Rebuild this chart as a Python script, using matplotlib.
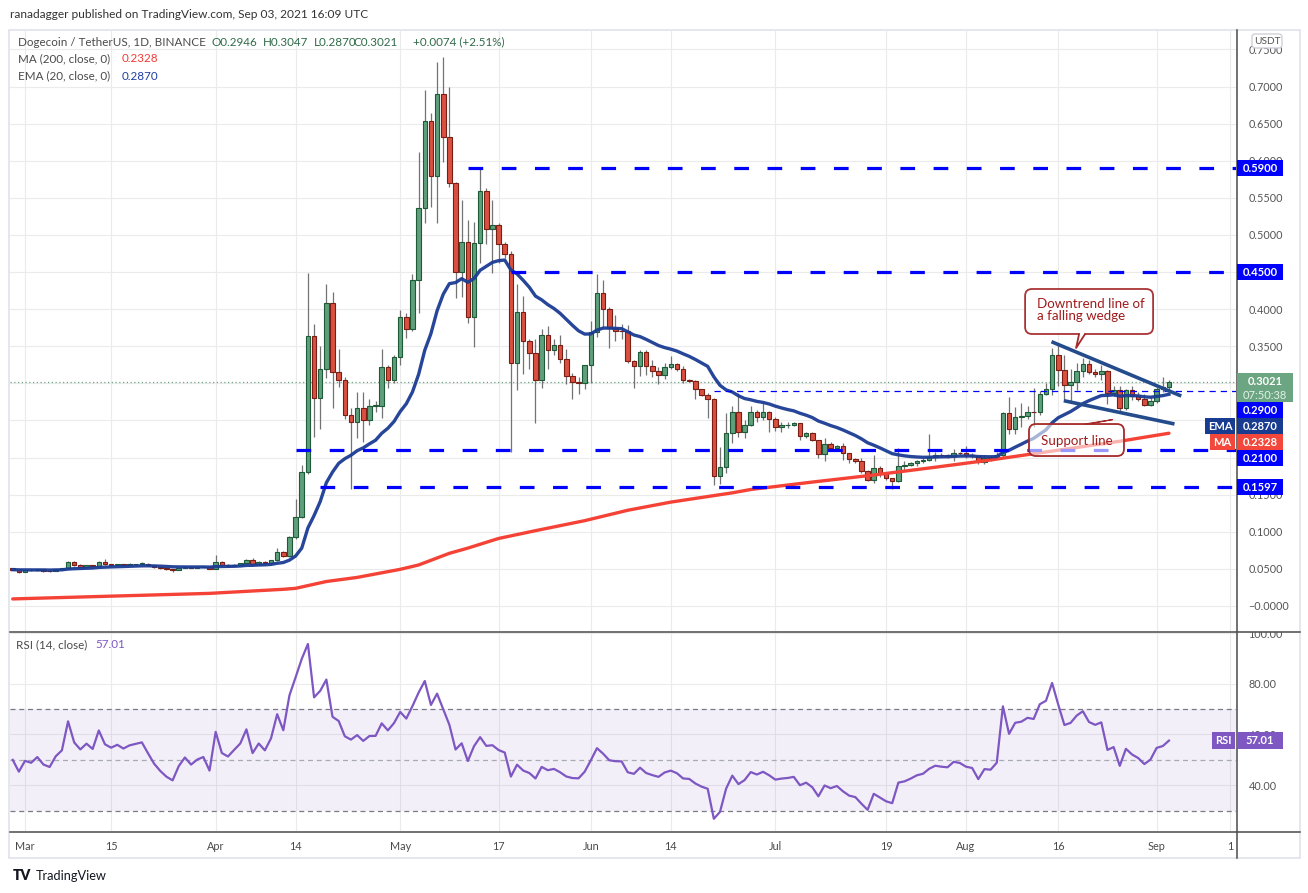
import numpy as np
import pandas as pd
import matplotlib
matplotlib.use("Agg")
import matplotlib.pyplot as plt
from matplotlib.patches import Rectangle, FancyBboxPatch, Polygon

W, H = 1308, 893
plt.rcParams['font.family'] = ['Lato', 'DejaVu Sans']

# ---- data (daily DOGE/USDT, 2021-02-27 .. 2021-09-03) ----
first_date = '2021-02-27'
first_open = 0.0508
closes = [
    .0490, .0458, .0485, .0480, .0494, .0476, .0470, .0494, .0508, .0597,
    .0548, .0530, .0548, .0535, .0597, .0562, .0553, .0562, .0553, .0562,
    .0566, .0570, .0548, .0525, .0508, .0494, .0485, .0512, .0530, .0515,
    .0525, .0530, .0503, .0597, .0548, .0539, .0557, .0575, .0620, .0562,
    .0593, .0575, .0615, .0723, .0678, .0930, .1195, .1801, .3634, .2800,
    .3200, .4080, .3160, .3040, .2580, .2475, .2670, .2500, .2695, .2700,
    .3217, .3040, .3350, .3890, .3730, .4400, .5370, .6536, .5800, .6896,
    .6325, .5697, .4497, .4910, .3900, .4890, .5586, .5087, .5134, .4874,
    .4740, .3270, .3958, .3570, .3405, .3046, .3648, .3450, .3513, .3329,
    .3100, .3015, .3000, .3244, .3688, .4214, .4000, .3743, .3706, .3700,
    .3298, .3238, .3423, .3238, .3167, .3110, .3217, .3261, .3190, .3050,
    .3037, .2920, .2840, .2786, .1756, .1877, .2327, .2619, .2350, .2440,
    .2619, .2553, .2610, .2523, .2417, .2435, .2445, .2462, .2291, .2327,
    .2237, .2044, .2183, .2129, .2156, .2058, .1977, .1950, .1824, .1698,
    .1856, .1788, .1720, .1685, .1883, .1896, .1923, .1954, .1968, .2012,
    .2039, .2030, .2025, .2066, .2057, .2030, .2021, .1940, .1999, .1995,
    .2035, .2597, .2381, .2543, .2560, .2619, .2610, .2853, .2920, .3378,
    .3185, .2974, .3015, .3163, .3257, .3149, .3120, .3163, .2866, .2907,
    .2664, .2911, .2834, .2786, .2705, .2763, .2920, .2946, .3021,
]
highs = [
    .0515, .0495, .0490, .0492, .0500, .0498, .0482, .0498, .0514, .0605,
    .0610, .0560, .0555, .0552, .0605, .0629, .0568, .0570, .0568, .0575,
    .0572, .0597, .0575, .0552, .0530, .0512, .0498, .0518, .0536, .0535,
    .0530, .0536, .0535, .0687, .0610, .0560, .0565, .0582, .0630, .0647,
    .0600, .0605, .0625, .0780, .0740, .0950, .1446, .1900, .4490, .3800,
    .3500, .4340, .4230, .3460, .3080, .2670, .2885, .2885, .2790, .2760,
    .3460, .3250, .3380, .3990, .3950, .4470, .6120, .6960, .6650, .7330,
    .7400, .7000, .5720, .5470, .5200, .5170, .5890, .5630, .5470, .5160,
    .4900, .4780, .4340, .4180, .3600, .3600, .3730, .3780, .3600, .3650,
    .3460, .3140, .3090, .3250, .3840, .4474, .4390, .4030, .3920, .3800,
    .3790, .3310, .3450, .3450, .3310, .3220, .3270, .3370, .3270, .3230,
    .3060, .3045, .2930, .2866, .2800, .2147, .2597, .2690, .2875, .2500,
    .2700, .2640, .2730, .2630, .2550, .2480, .2480, .2480, .2470, .2345,
    .2345, .2240, .2260, .2210, .2170, .2190, .2060, .1990, .1990, .1830,
    .2035, .1880, .1800, .1730, .2125, .1960, .1940, .1970, .1990, .2318,
    .2080, .2060, .2050, .2110, .2080, .2156, .2060, .2040, .2030, .2030,
    .2070, .2610, .2820, .2687, .2732, .2690, .2934, .2900, .3000, .3480,
    .3517, .3380, .3200, .3271, .3338, .3315, .3190, .3248, .3180, .2960,
    .2960, .2930, .2960, .2880, .2860, .2820, .2960, .3090, .3047,
]
lows = [
    .0482, .0440, .0452, .0474, .0476, .0454, .0462, .0466, .0490, .0500,
    .0540, .0522, .0525, .0530, .0530, .0555, .0545, .0548, .0548, .0550,
    .0555, .0560, .0542, .0518, .0500, .0485, .0462, .0480, .0508, .0510,
    .0510, .0520, .0498, .0500, .0540, .0530, .0535, .0550, .0570, .0555,
    .0555, .0568, .0570, .0605, .0660, .0665, .0900, .1180, .1780, .2280,
    .2380, .3070, .2670, .2950, .2520, .1580, .2270, .2215, .2440, .2620,
    .2530, .2934, .3000, .3248, .3608, .3710, .3950, .5160, .5380, .5160,
    .5990, .5650, .4150, .4170, .3820, .3495, .4620, .4879, .4484, .4618,
    .4690, .2080, .2911, .3127, .3200, .2460, .2934, .3190, .3380, .3270,
    .2992, .2786, .2853, .2920, .3000, .3630, .3756, .3480, .3575, .3600,
    .3270, .2934, .3104, .3110, .3090, .2988, .3055, .3200, .3170, .3010,
    .3020, .2786, .2830, .2530, .1630, .1650, .1788, .2193, .2280, .2270,
    .2420, .2480, .2500, .2350, .2360, .2340, .2400, .2420, .2240, .2270,
    .2220, .1990, .1950, .2100, .2100, .1970, .1930, .1930, .1790, .1690,
    .1660, .1740, .1700, .1570, .1670, .1830, .1880, .1880, .1930, .1950,
    .1950, .2010, .2000, .1950, .2030, .2000, .2000, .1920, .1920, .1960,
    .1980, .2010, .2320, .2320, .2417, .2520, .2417, .2580, .2840, .2840,
    .2965, .2776, .2760, .2911, .3090, .3127, .3080, .3046, .2722, .2830,
    .2620, .2640, .2780, .2760, .2690, .2690, .2740, .2880, .2870,
]

# 200-day MA (history before the window is not shown)
ma200_dates = ['2021-02-27', '2021-03-01', '2021-03-31', '2021-04-12', '2021-04-14',
               '2021-04-19', '2021-04-24', '2021-05-01', '2021-05-04', '2021-05-09',
               '2021-05-12', '2021-05-17', '2021-05-23', '2021-05-31', '2021-06-07',
               '2021-06-14', '2021-06-24', '2021-06-27', '2021-07-07', '2021-07-17',
               '2021-07-27', '2021-08-05', '2021-08-16', '2021-08-26', '2021-09-03']
ma200_vals = [0.0095, 0.0100, 0.0170, 0.0225, 0.0238, 0.0330, 0.0385, 0.0494, 0.0553,
              0.0710, 0.0780, 0.0910, 0.1015, 0.1150, 0.1290, 0.1400, 0.1525, 0.1570,
              0.1670, 0.1765, 0.1870, 0.1968, 0.2100, 0.2220, 0.2328]

# horizontal levels: price, first day drawn
levels = [0.59, 0.45, 0.21, 0.1597]
level_start = ['2021-05-12', '2021-05-19', '2021-04-14', '2021-04-18']
thin_level = 0.29
thin_level_start = '2021-06-21'

# wedge drawings (day offsets from 2021-03-01, prices)
wedge_top_x, wedge_top_y = [166.9, 188.0], [0.3562, 0.2830]
wedge_bot_x, wedge_bot_y = [168.9, 186.9], [0.2767, 0.2453]
callout1_tip = (170.9, 0.3477)
callout2_tip = (176.9, 0.2513)

tick_dates = ['2021-03-01', '2021-03-15', '2021-04-01', '2021-04-14', '2021-05-01',
              '2021-05-17', '2021-06-01', '2021-06-14', '2021-07-01', '2021-07-19',
              '2021-08-01', '2021-08-16', '2021-09-01', '2021-09-13']
tick_labels = ['Mar', '15', 'Apr', '14', 'May', '17', 'Jun', '14', 'Jul', '19',
               'Aug', '16', 'Sep', '1']

# price ticks hidden under the value tags on the right axis
hidden_ticks = [0.20, 0.25, 0.30, 0.45]

rsi_seed = 0.0012  # starting Wilder average gain/loss

# ---- derived ----
base = pd.Timestamp('2021-03-01')
def day(s):
    return (pd.Timestamp(s) - base).days

dates = pd.date_range(first_date, periods=len(closes))
x = np.asarray((dates - base).days, dtype=float)
c = np.array(closes)
o = np.r_[first_open, c[:-1]]
hi = np.array(highs)
lo = np.array(lows)
ema20 = pd.Series(c).ewm(span=20, adjust=False).mean().values

ag = al = rsi_seed
rsi = [50.0]
for d in np.diff(c):
    ag = (ag * 13 + max(d, 0)) / 14
    al = (al * 13 + max(-d, 0)) / 14
    rsi.append(100 - 100 / (1 + ag / al))
rsi = np.array(rsi)

# ---- figure ----
fig = plt.figure(figsize=(W / 100, H / 100), dpi=100)

def rect(x0, y0, x1, y1):
    return [x0 / W, 1 - y1 / H, (x1 - x0) / W, (y1 - y0) / H]

ax = fig.add_axes(rect(10, 31, 1236, 631))
rx = fig.add_axes(rect(10, 632, 1236, 831), sharex=ax)
ov = fig.add_axes([0, 0, 1, 1], zorder=20)
ov.set_xlim(0, W)
ov.set_ylim(H, 0)
ov.axis('off')

xl = (-2.44, 196.9)
ax.set_xlim(*xl)
ax.set_ylim(-0.0337, 0.7749)
rx.set_ylim(21.96, 100.4)

tx = [day(t) for t in tick_dates]
grid_c = '#ebebeb'
for a in (ax, rx):
    for s in a.spines.values():
        s.set_visible(False)
    a.set_xticks(tx)
    a.grid(True, color=grid_c, lw=0.8)
    a.set_axisbelow(True)
    a.yaxis.tick_right()
    a.tick_params(length=0, labelcolor='#555555', labelsize=7.8)
ax.tick_params(axis='x', labelbottom=False)
rx.set_xticklabels(tick_labels)
rx.tick_params(axis='x', pad=7, labelcolor='#4a4a4a', labelsize=7.8)

pt = np.round(np.arange(0, 0.76, 0.05), 2)
ax.set_yticks(pt)
ax.set_yticklabels(['' if any(abs(v - h) < 1e-9 for h in hidden_ticks)
                    else ('\u22120.0000' if v == 0 else f'{v:.4f}') for v in pt])
ax.tick_params(axis='y', pad=9)

# candles
up = c >= o
wick_c = '#737373'
ax.vlines(x, lo, hi, color=wick_c, lw=0.9, zorder=3)
bb = np.minimum(o, c)
bh = np.maximum(np.abs(c - o), 0.0007)
ax.bar(x[up], bh[up], bottom=bb[up], width=0.74, color='#5f9f7b',
       edgecolor='#1d5a37', lw=0.8, zorder=4)
ax.bar(x[~up], bh[~up], bottom=bb[~up], width=0.74, color='#da5040',
       edgecolor='#7a1d14', lw=0.8, zorder=4)

# indicators
ma_x = [day(s) for s in ma200_dates]
ax.plot(ma_x, ma200_vals, color='#f44336', lw=2.4, zorder=5,
        solid_capstyle='round', solid_joinstyle='round')
ax.plot(x, ema20, color='#1b3c94', lw=2.4, zorder=5, alpha=0.95)

# current price dotted line
ax.axhline(c[-1], color='#6aa584', lw=0.9, ls=(0, (1, 2)), zorder=2)

# levels
for p, s in zip(levels, level_start):
    ax.plot([day(s), xl[1]], [p, p], color='#0000ff', lw=2.3,
            ls=(0, (4.6, 5.8)), zorder=6)
ax.plot([day(thin_level_start), xl[1]], [thin_level] * 2, color='#0000ff',
        lw=0.9, ls=(0, (5, 4)), zorder=6)

# wedge
ax.plot(wedge_top_x, wedge_top_y, color='#244c8c', lw=2.6, zorder=6, solid_capstyle='butt')
ax.plot(wedge_bot_x, wedge_bot_y, color='#244c8c', lw=2.6, zorder=6, solid_capstyle='butt')

# RSI pane
rx.set_yticks([40, 60, 80, 100])
rx.set_yticklabels(['40.00', '60.00', '80.00', '100.00'])
rx.tick_params(axis='y', pad=9)
rx.axhspan(30, 70, color='#7e57c2', alpha=0.09, lw=0, zorder=1)
rx.axhline(70, color='#787b86', lw=0.9, ls=(0, (4, 3)), zorder=2)
rx.axhline(30, color='#787b86', lw=0.9, ls=(0, (4, 3)), zorder=2)
rx.axhline(50, color='#a9abb3', lw=0.9, ls=(0, (4, 3)), zorder=2)
rx.plot(x, rsi, color='#7e57c2', lw=1.6, zorder=4)

# ---- overlay in pixel units ----
def ypix(a, v):
    return H - a.transData.transform((0, v))[1]

def xpix(a, v):
    return a.transData.transform((v, 0))[0]

# hide clipped top of 100.00
ov.add_patch(Rectangle((1237, 617), 62, 14, color='white', zorder=1))
# frame & separators
ov.add_patch(Rectangle((9, 30), 1291, 828, fill=False, ec='#e0e3eb', lw=1.2))
ov.plot([10, 1300], [631.5, 631.5], color='#4a4a4a', lw=1.1)
ov.plot([10, 1300], [831.5, 831.5], color='#4a4a4a', lw=1.1)
ov.plot([1236.5, 1236.5], [30, 858], color='#4a4a4a', lw=1.1)

def tag(y0, h, text, color, x0=1237, x1=1283, tc='white'):
    ov.add_patch(Rectangle((x0, y0), x1 - x0, h, color=color, lw=0, zorder=3))
    ov.text((x0 + x1) / 2, y0 + h / 2, text, color=tc, ha='center', va='center',
            fontsize=8, fontweight='bold', zorder=4)

tag(ypix(ax, 0.59) - 8, 16, '0.5900', '#0000ff')
tag(ypix(ax, 0.45) - 8, 16, '0.4500', '#0000ff')

# stacked right-axis tags
stack = [(c[-1], 'last'), (0.29, 'lvl'), (ema20[-1], 'ema'), (ma200_vals[-1], 'ma'),
         (0.21, 'lvl'), (0.1597, 'lvl')]
prev_bottom = -1e9
for v, kind in stack:
    yc = ypix(ax, v)
    above, below = (8.5, 20.5) if kind == 'last' else (8, 8)
    top = max(yc - above, prev_bottom)
    prev_bottom = top + above + below
    if kind == 'last':
        ov.add_patch(Rectangle((1237, top), 56, above + below, color='#6ca582', lw=0, zorder=3))
        ov.text(1265, top + 8.5, '0.3021', color='white', ha='center', va='center',
                fontsize=8, fontweight='bold', zorder=4)
        ov.text(1265, top + 22, '07:50:38', color='#e4f2e9', ha='center', va='center',
                fontsize=8, zorder=4)
    elif kind == 'lvl':
        tag(top, 16, f'{v:.4f}', '#0000ff')
    elif kind == 'ema':
        tag(top, 16, '0.2870', '#183c8f')
        tag(top, 16, 'EMA', '#183c8f', x0=1205, x1=1235)
    else:
        tag(top, 16, '0.2328', '#f2473a')
        tag(top, 16, 'MA', '#f2473a', x0=1210, x1=1235)

# RSI tag
yr = ypix(rx, rsi[-1])
tag(yr - 8.5, 17, '57.01', '#7e57c2')
tag(yr - 8.5, 17, 'RSI', '#7e57c2', x0=1212, x1=1235)

# USDT box
ov.add_patch(FancyBboxPatch((1252, 34), 30, 14, boxstyle='round,pad=0,rounding_size=3',
                            fc='white', ec='#c9ccd4', lw=0.9, zorder=3))
ov.text(1267, 41.5, 'USDT', color='#555555', ha='center', va='center', fontsize=7.3, zorder=4)

# callout 1
tx1, ty1 = xpix(ax, callout1_tip[0]), ypix(ax, callout1_tip[1])
red_c = '#a5292a'
ov.add_patch(FancyBboxPatch((tx1 - 51, ty1 - 59), 128, 45,
                            boxstyle='round,pad=0,rounding_size=7',
                            fc='white', ec=red_c, lw=1.3, alpha=0.95, zorder=5))
ov.add_patch(Polygon([(tx1 + 3, ty1 - 15), (tx1 + 9, ty1 - 15), (tx1, ty1)],
                     closed=True, fc='white', ec='none', zorder=6))
ov.plot([tx1 + 3, tx1, tx1 + 9], [ty1 - 14, ty1, ty1 - 14], color=red_c, lw=1.3, zorder=6)
ov.text(tx1 - 39, ty1 - 38, 'Downtrend line of\na falling wedge', color='#a01c1c',
        ha='left', va='center', fontsize=9.6, linespacing=1.05, zorder=7)

# callout 2
tx2, ty2 = xpix(ax, callout2_tip[0]), ypix(ax, callout2_tip[1])
ov.add_patch(FancyBboxPatch((tx2 - 84, ty2 + 4.5), 95, 32,
                            boxstyle='round,pad=0,rounding_size=7',
                            fc='white', ec='none', alpha=0.6, zorder=5))
ov.add_patch(FancyBboxPatch((tx2 - 84, ty2 + 4.5), 95, 32,
                            boxstyle='round,pad=0,rounding_size=7',
                            fc='none', ec=red_c, lw=1.3, zorder=5))
ov.add_patch(Polygon([(tx2 - 28, ty2 + 4.5), (tx2 - 24, ty2 + 4.5), (tx2, ty2)],
                     closed=True, fc=red_c, ec=red_c, lw=0.8, zorder=6))
ov.text(tx2 - 36.5, ty2 + 21, 'Support line', color='#a01c1c', ha='center',
        va='center', fontsize=9.6, zorder=7)

# header / legends
ov.text(10, 15, 'ranadagger published on TradingView.com, Sep 03, 2021 16:09 UTC',
        color='#333333', fontsize=8.6, va='center')
ov.text(18, 42, 'Dogecoin / TetherUS, 1D, BINANCE', color='#4a4a4a', fontsize=8.4, va='center')
ohlc_txt = ['O0.2946', 'H0.3047', 'L0.2870', 'C0.3021', '+0.0074 (+2.51%)']
ohlc_x = [212, 263, 314, 354, 413]
for t, xp in zip(ohlc_txt, ohlc_x):
    ov.text(xp, 42, t, color='#2f6b48', fontsize=8.4, va='center')
ov.text(18, 59, 'MA (200, close, 0)', color='#4a4a4a', fontsize=8.4, va='center')
ov.text(122, 59, '0.2328', color='#f23b36', fontsize=8.4, va='center')
ov.text(18, 76, 'EMA (20, close, 0)', color='#4a4a4a', fontsize=8.4, va='center')
ov.text(122, 76, '0.2870', color='#1e3fa0', fontsize=8.4, va='center')
ov.text(16, 645, 'RSI (14, close)', color='#4a4a4a', fontsize=8.4, va='center')
ov.text(95, 645, '57.01', color='#7e57c2', fontsize=8.4, va='center')

# footer
ov.text(13, 876, 'TV', color='#131722', fontsize=10, fontweight='heavy', va='center')
ov.text(36, 876, 'TradingView', color='#131722', fontsize=9.2, va='center')

fig.savefig('out.png', dpi=100)
